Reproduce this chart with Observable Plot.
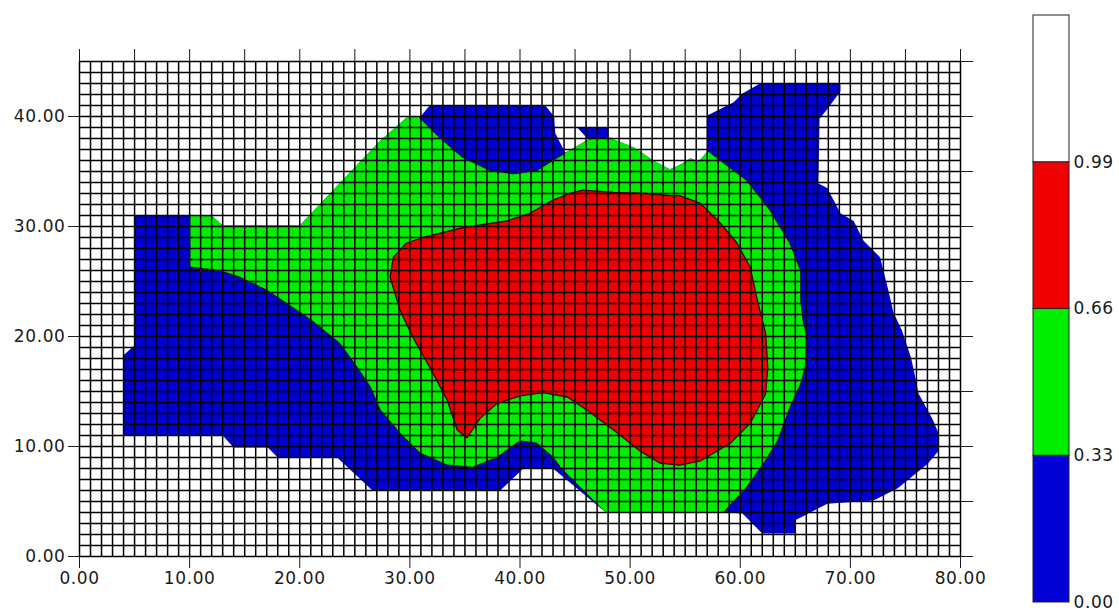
<!DOCTYPE html>
<html>
<head>
<meta charset="utf-8">
<script src="https://cdn.jsdelivr.net/npm/d3@7"></script>
<script src="https://cdn.jsdelivr.net/npm/@observablehq/plot@0.6"></script>
<style>
  html, body { margin: 0; padding: 0; background: #fff; }
  #wrap { display: flex; width: 1119px; height: 610px; }
</style>
</head>
<body>
<div id="wrap"></div>
<script>
// ---- data ----
const xTicks = [0, 10, 20, 30, 40, 50, 60, 70, 80];
const yTicks = [0, 10, 20, 30, 40];
const minorTicksX = d3.range(0, 81, 5);
const minorTicksY = d3.range(0, 46, 5);
const gridX = d3.range(0, 81, 1);
const gridY = d3.range(0, 46, 1);

const bandLevels = [0, 0.33, 0.66, 0.99, 1.32];
const bandColors = ["#0000d2", "#00ee00", "#f00000", "#ffffff"];
const bandLabels = [0, 0.33, 0.66, 0.99];

// region with value >= 0.00 (all coloured area)
const outerRegion = [[4,11],[4,18.3],[5,19.2],[5,31],[10,31],[12.1,30.9],[13,30.1],[20,30.1],[23.5,33.8],[27.3,37.8],[29.7,39.9],[30.9,39.9],[31.8,41],[42.3,41],[43.1,40],[43.2,38.5],[44.1,36.7],[46.2,37.9],[45.2,39],[48,39],[48,38.1],[50.3,37.2],[52.1,36],[53.6,35.2],[54.5,35.6],[55.5,36.2],[56.2,35.9],[57,36.8],[57,40.1],[59.4,41.3],[60.2,42.1],[61.8,43],[69.1,43],[69.1,42.3],[68,40.8],[67.2,39.8],[67.1,33.9],[67.9,33.5],[69.1,31.2],[70.3,30.5],[71.2,28.7],[72.7,27.2],[73,26],[73.5,24],[73.9,22.2],[74.7,20.5],[75.5,18.1],[75.7,17.2],[76.2,14.8],[77.5,12.4],[78,11.2],[78,9.6],[77,8.4],[74.3,6.2],[72.1,5.1],[67.9,4.8],[65,3.3],[65,2.1],[62,2.1],[60.2,3.9],[58.5,4],[47.8,4],[43,8],[40.3,8],[38.2,6],[26.6,6],[23.4,9],[18,9],[17.1,9.9],[14,9.9],[13,11]];

// 0.33 contour, split into the parts bordering blue and the parts bordering white
const edge33West = [[10,31],[10,26.3],[12.7,26],[14.5,25.4],[17,24.2],[18.8,23],[21,21.5],[23.6,19.4],[25.2,17.2],[26.4,15.4],[27.3,13.3],[29.1,11.2],[30.9,9.4],[33.4,8.3],[35.7,8.1],[37.9,9],[40,10.5],[41.5,10.3],[43,9],[43.6,8.2]];
const edge33South = [[47.8,4]];
const edge33East = [[58.5,4],[60.6,6.3],[62.1,8.4],[63.4,10.5],[64.5,13.5],[65.5,15.7],[65.9,17.2],[66.1,19.9],[65.7,21.5],[65.5,23.3],[65.5,26],[64.5,28.5],[62.7,31.5],[60.6,34.2],[57.3,36.7]];
const edge33NorthEast = [[57,36.8],[56.2,35.9],[55.5,36.2],[54.5,35.6],[53.6,35.2],[52.1,36],[50.3,37.2],[48.2,38.1],[46.2,37.9]];
const edge33North = [[44.1,36.7],[41.5,35.1],[39.4,34.8],[37.3,35.1],[34.8,36.3],[32.7,38.1],[30.9,39.9]];
const edge33NorthWest = [[29.7,39.9],[27.3,37.8],[23.5,33.8],[20,30.1],[13,30.1],[12.1,30.9]];

// region with value >= 0.66
const region66 = [[28.2,25.4],[28.5,27.2],[29.7,28.5],[31.2,29],[34.8,29.9],[38.8,30.5],[40.9,31.2],[43,32.4],[44.5,33],[45.7,33.3],[48.5,33.1],[51.5,33],[53.6,32.8],[54.5,32.8],[56.4,32.1],[58.2,30.3],[59.7,28.5],[60.9,26.3],[61.5,23.5],[62.3,20.3],[62.5,17.2],[62.3,14.8],[60.9,12.1],[59.1,10.3],[56.4,8.7],[54.5,8.3],[52.7,8.5],[50.9,9.6],[48.5,11.5],[46.1,13.3],[44.3,14.5],[42.1,14.9],[40,14.6],[37.9,13.9],[36.4,12.6],[35.2,10.8],[34.3,11.5],[33.4,14.2],[31.8,17.2],[30.3,19.9],[29.1,22.4]];

// ---- chart ----
const region33 = [...edge33West, ...edge33South, ...edge33East, ...edge33NorthEast, ...edge33North, ...edge33NorthWest];
const fmt = d => d.toFixed(2);
const font = {fontFamily: "'DejaVu Sans', sans-serif", fontSize: "17px", letterSpacing: "0.6px", color: "#1a1a1a", background: "#fff", overflow: "visible"};
const px = d => d[0], py = d => d[1];
const edgeStyle = {x: px, y: py, stroke: "#101030", strokeWidth: 1.2};

const main = Plot.plot({
  width: 1000, height: 610,
  marginLeft: 79, marginRight: 40, marginTop: 61, marginBottom: 54,
  style: font,
  x: {domain: [0, 80], label: null},
  y: {domain: [0, 45], label: null},
  marks: [
    Plot.line(outerRegion, {x: px, y: py, fill: bandColors[0], stroke: "none", curve: "linear-closed"}),
    Plot.line(region33, {x: px, y: py, fill: bandColors[1], stroke: "none", curve: "linear-closed"}),
    Plot.line(region66, {x: px, y: py, fill: bandColors[2], stroke: "none", curve: "linear-closed"}),
    Plot.gridX(gridX, {stroke: "#000", strokeOpacity: 1, strokeWidth: 1.5}),
    Plot.gridY(gridY, {stroke: "#000", strokeOpacity: 1, strokeWidth: 1.5}),
    Plot.line(edge33West, edgeStyle),
    Plot.line(edge33East, edgeStyle),
    Plot.line(edge33North, edgeStyle),
    Plot.line(region66, {x: px, y: py, stroke: "#300", strokeWidth: 1.3, curve: "linear-closed"}),
    Plot.axisY(yTicks, {anchor: "left", tickSize: 11, tickPadding: 3, tickFormat: fmt, label: null}),
    Plot.axisX(xTicks, {anchor: "bottom", tickSize: 12, tickPadding: 3, tickFormat: fmt, label: null}),
    Plot.axisX(minorTicksX, {anchor: "top", tickSize: 13, tickFormat: () => "", label: null}),
    Plot.axisY(minorTicksY, {anchor: "right", tickSize: 12, tickFormat: () => "", label: null})
  ]
});

const bands = bandColors.map((c, i) => ({lo: bandLevels[i], hi: bandLevels[i + 1], color: c}));

const bar = Plot.plot({
  width: 119, height: 610,
  marginLeft: 33, marginRight: 50, marginTop: 15, marginBottom: 8,
  style: font,
  x: {domain: [0, 1], axis: null},
  y: {domain: [bandLevels[0], bandLevels[bandLevels.length - 1]], label: null},
  marks: [
    Plot.rect(bands, {x1: 0, x2: 1, y1: "lo", y2: "hi", fill: "color", stroke: "#222", strokeWidth: 1}),
    Plot.axisY(bandLabels, {anchor: "right", tickSize: 0, tickPadding: 4, tickFormat: fmt, label: null})
  ]
});
bar.style.overflow = "visible";

document.getElementById("wrap").append(main, bar);
</script>
</body>
</html>
